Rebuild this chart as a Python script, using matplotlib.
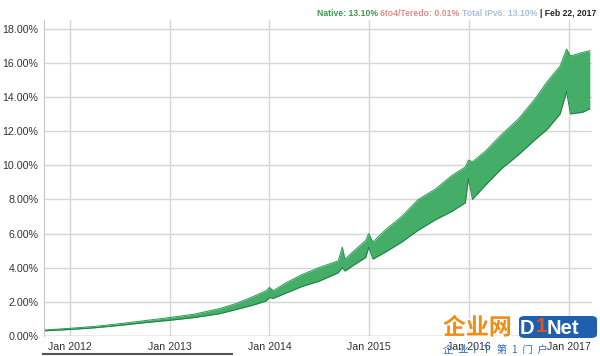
import matplotlib
matplotlib.use('Agg')
import matplotlib.pyplot as plt
from matplotlib.patches import FancyBboxPatch
from matplotlib.lines import Line2D
import matplotlib.patheffects as pe
import pandas as pd

# IPv6 adoption (% of users), weekday low / weekend high
dates = ['2011-09-28', '2012-01-01', '2012-04-01', '2012-07-01', '2012-10-01',
         '2013-01-01', '2013-04-01', '2013-07-01', '2013-09-01', '2013-11-01',
         '2013-12-20', '2014-01-01', '2014-01-15', '2014-03-01', '2014-05-01',
         '2014-07-01', '2014-09-10', '2014-09-25', '2014-10-05', '2014-11-01',
         '2014-12-20', '2014-12-31', '2015-01-15', '2015-03-01', '2015-05-01',
         '2015-07-01', '2015-09-01', '2015-11-01', '2015-12-20', '2015-12-31',
         '2016-01-15', '2016-03-01', '2016-05-01', '2016-07-01', '2016-09-01',
         '2016-10-15', '2016-12-01', '2016-12-25', '2017-01-08', '2017-02-22',
         '2017-03-20']
native_low = [0.30, 0.38, 0.48, 0.62, 0.78,
              0.92, 1.08, 1.30, 1.55, 1.80,
              2.05, 2.25, 2.20, 2.50, 2.90,
              3.20, 3.70, 4.00, 3.80, 4.10,
              4.60, 5.20, 4.50, 4.90, 5.50,
              6.20, 6.80, 7.30, 7.80, 9.20,
              8.00, 8.80, 9.80, 10.6, 11.5,
              12.1, 13.0, 14.3, 13.0, 13.1,
              13.3]
native_high = [0.35, 0.45, 0.56, 0.72, 0.90,
               1.08, 1.28, 1.60, 1.90, 2.30,
               2.65, 2.85, 2.65, 3.10, 3.60,
               4.00, 4.40, 5.20, 4.50, 4.90,
               5.60, 6.00, 5.50, 6.20, 7.00,
               8.00, 8.60, 9.40, 9.90, 10.3,
               10.2, 10.8, 11.8, 12.7, 13.9,
               14.9, 15.8, 16.8, 16.4, 16.6,
               16.7]
teredo = [0.02] * len(dates)

ytick_vals = [0, 2, 4, 6, 8, 10, 12, 14, 16, 18]
xtick_dates = ['2012-01-01', '2013-01-01', '2014-01-01', '2015-01-01',
               '2016-01-01', '2017-01-01']
xtick_labels = ['Jan 2012', 'Jan 2013', 'Jan 2014', 'Jan 2015', 'Jan 2016', 'Jan 2017']

x = pd.to_datetime(dates)

plt.rcParams['font.family'] = ['Liberation Sans', 'DejaVu Sans']
fig = plt.figure(figsize=(6, 3.56), dpi=100)
ax = fig.add_axes([44/600, 1-336/356, 548/600, 316/356])

ax.fill_between(x, native_low, native_high, color='#3aaa60', alpha=0.95, lw=0)
ax.plot(x, native_high, color='#2a9a50', lw=0.7)
ax.plot(x, native_low, color='#1d8042', lw=0.7)
ax.plot(x, teredo, color='#e89a9a', lw=0.8)

ax.set_ylim(0, 18.5)
ax.set_xlim(pd.Timestamp('2011-09-28'), pd.Timestamp('2017-03-28'))
ax.set_yticks(ytick_vals)
ax.set_yticklabels(['%.2f%%' % v for v in ytick_vals])
ax.set_xticks(pd.to_datetime(xtick_dates))
ax.set_xticklabels(xtick_labels)
ax.tick_params(length=0, labelsize=7.7, labelcolor='#333333', pad=4)
ax.tick_params(axis='x', pad=4)
ax.grid(True, color='#d6d6d6', lw=1)
ax.set_axisbelow(True)
for s in ['top', 'right', 'bottom']:
    ax.spines[s].set_visible(False)
ax.spines['left'].set_color('#c8c8c8')
ax.axhline(0, color='#c8c8c8', lw=1)

# legend line at top right, drawn right to left
fig.canvas.draw()
r = fig.canvas.get_renderer()
parts = [('Native: 13.10% ', '#3a9a4c'), ('6to4/Teredo: 0.01% ', '#e08a8a'),
         ('Total IPv6: 13.10% ', '#a9c0dc'), ('| Feb 22, 2017', '#222222')]
xpos = 596
for txt, col in reversed(parts):
    t = fig.text(xpos/600, 1-13/356, txt, ha='right', va='center', fontsize=6.2,
                 fontweight='bold', color=col)
    bb = t.get_window_extent(r)
    xpos = xpos - bb.width

# range selector bar under the axis
fig.add_artist(Line2D([43/600, 232/600], [1-354/356, 1-354/356], color='#555555', lw=1.5))

# site logo overlay
fig.text(443/600, 1-328/356, '企业网', fontsize=16.5, fontweight='bold', color='#f08c10',
         family=['Noto Sans CJK SC'], va='center', ha='left',
         path_effects=[pe.withStroke(linewidth=2, foreground='white')])
box = FancyBboxPatch((519/600, 1-338/356), 78/600, 22/356, boxstyle='round,pad=0,rounding_size=0.01',
                     transform=fig.transFigure, color='#1f5fae', lw=0)
fig.add_artist(box)
fig.text(520/600, 1-328/356, 'D', fontsize=14.5, fontweight='bold', color='white', va='center')
fig.text(535.5/600, 1-326/356, '1', fontsize=14.5, fontweight='bold', color='#e8501e', va='center')
fig.text(546.5/600, 1-328/356, 'Net', fontsize=14.5, fontweight='bold', color='white', va='center')
fig.text(443/600, 1-350/356, '企  业  I   T   第  1  门  户', fontsize=7.5, color='#2f6fbf',
         family=['Noto Sans CJK SC', 'DejaVu Sans'], va='center', ha='left')

fig.savefig('out.png', dpi=100)
